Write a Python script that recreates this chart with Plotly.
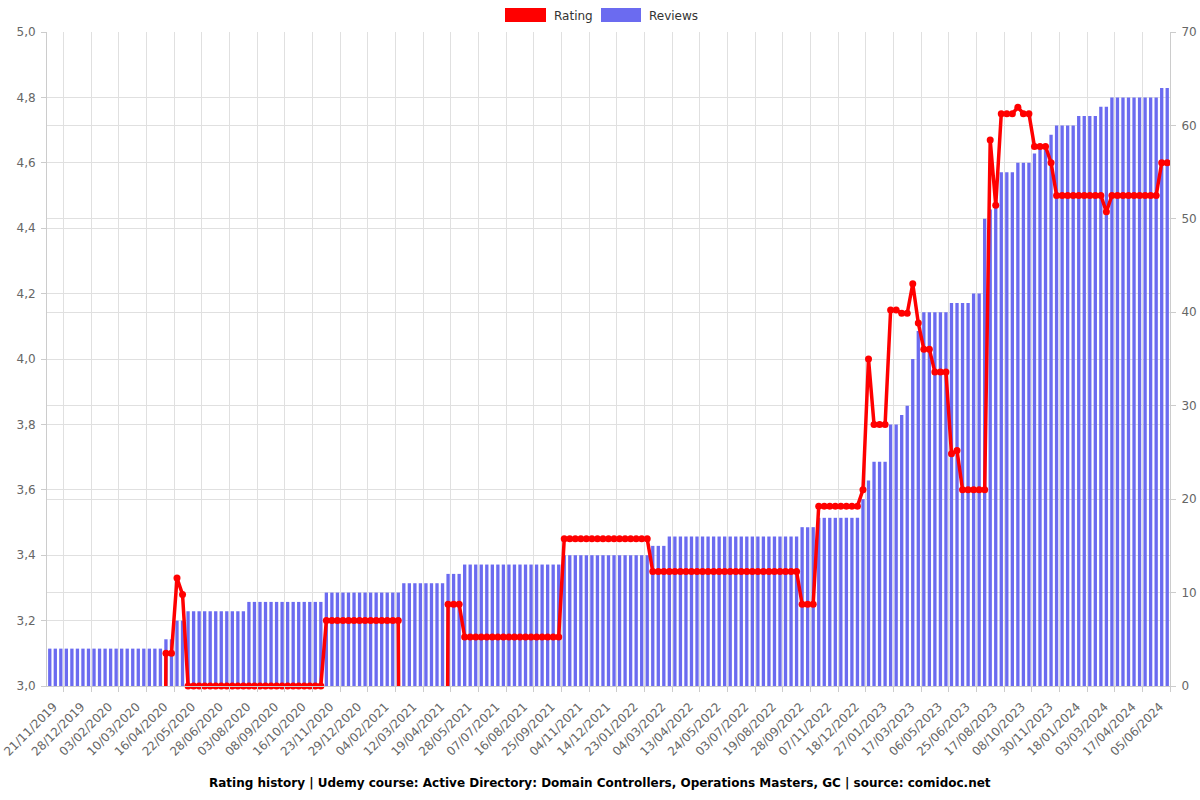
import plotly.graph_objects as go

tick_dates = ["21/11/2019", "28/12/2019", "03/02/2020", "10/03/2020", "16/04/2020", "22/05/2020",
              "28/06/2020", "03/08/2020", "08/09/2020", "16/10/2020", "23/11/2020", "29/12/2020",
              "04/02/2021", "12/03/2021", "19/04/2021", "28/05/2021", "07/07/2021", "16/08/2021",
              "25/09/2021", "04/11/2021", "14/12/2021", "23/01/2022", "04/03/2022", "13/04/2022",
              "24/05/2022", "03/07/2022", "19/08/2022", "28/09/2022", "07/11/2022", "18/12/2022",
              "27/01/2023", "17/03/2023", "06/05/2023", "25/06/2023", "17/08/2023", "08/10/2023",
              "30/11/2023", "18/01/2024", "03/03/2024", "17/04/2024", "05/06/2024"]

reviews = [
    4, 4, 4, 4, 4, 4, 4, 4, 4, 4, 4, 4, 4, 4, 4, 4, 4, 4, 4, 4, 4,
    5, 5, 7, 7,
    8, 8, 8, 8, 8, 8, 8, 8, 8, 8, 8,
    9, 9, 9, 9, 9, 9, 9, 9, 9, 9, 9, 9, 9, 9,
    10, 10, 10, 10, 10, 10, 10, 10, 10, 10, 10, 10, 10, 10,
    11, 11, 11, 11, 11, 11, 11, 11,
    12, 12, 12,
    13, 13, 13, 13, 13, 13, 13, 13, 13, 13, 13, 13, 13, 13, 13, 13, 13, 13,
    14, 14, 14, 14, 14, 14, 14, 14, 14, 14, 14, 14, 14, 14, 14, 14,
    15, 15, 15,
    16, 16, 16, 16, 16, 16, 16, 16, 16, 16, 16, 16, 16, 16, 16, 16, 16, 16, 16, 16, 16, 16, 16, 16,
    17, 17, 17,
    18, 18, 18, 18, 18, 18, 18, 18,
    20, 22, 24, 24, 24, 28, 28, 29, 30, 35, 38,
    40, 40, 40, 40, 40, 41, 41, 41, 41, 42, 42,
    50, 51, 52, 55, 55, 55, 56, 56, 56, 57, 58, 58, 59,
    60, 60, 60, 60, 61, 61, 61, 61, 62, 62,
    63, 63, 63, 63, 63, 63, 63, 63, 63, 64, 64,
]

rating = [
    0, 0, 0, 0, 0, 0, 0, 0, 0, 0, 0, 0, 0, 0, 0, 0, 0, 0, 0, 0, 0,
    3.1, 3.1, 3.33, 3.28,
    3.0, 3.0, 3.0, 3.0, 3.0, 3.0, 3.0, 3.0, 3.0, 3.0, 3.0, 3.0, 3.0, 3.0, 3.0, 3.0, 3.0, 3.0, 3.0, 3.0,
    3.0, 3.0, 3.0, 3.0, 3.0,
    3.2, 3.2, 3.2, 3.2, 3.2, 3.2, 3.2, 3.2, 3.2, 3.2, 3.2, 3.2, 3.2, 3.2,
    0, 0, 0, 0, 0, 0, 0, 0,
    3.25, 3.25, 3.25,
    3.15, 3.15, 3.15, 3.15, 3.15, 3.15, 3.15, 3.15, 3.15, 3.15, 3.15, 3.15, 3.15, 3.15, 3.15, 3.15, 3.15, 3.15,
    3.45, 3.45, 3.45, 3.45, 3.45, 3.45, 3.45, 3.45, 3.45, 3.45, 3.45, 3.45, 3.45, 3.45, 3.45, 3.45,
    3.35, 3.35, 3.35, 3.35, 3.35, 3.35, 3.35, 3.35, 3.35, 3.35, 3.35, 3.35, 3.35, 3.35, 3.35, 3.35, 3.35, 3.35,
    3.35, 3.35, 3.35, 3.35, 3.35, 3.35, 3.35, 3.35, 3.35,
    3.25, 3.25, 3.25,
    3.55, 3.55, 3.55, 3.55, 3.55, 3.55, 3.55, 3.55,
    3.6, 4.0, 3.8, 3.8, 3.8, 4.15, 4.15, 4.14, 4.14, 4.23, 4.11, 4.03, 4.03,
    3.96, 3.96, 3.96, 3.71, 3.72, 3.6, 3.6, 3.6, 3.6, 3.6,
    4.67, 4.47, 4.75, 4.75, 4.75, 4.77, 4.75, 4.75, 4.65, 4.65, 4.65, 4.6,
    4.5, 4.5, 4.5, 4.5, 4.5, 4.5, 4.5, 4.5, 4.5, 4.45,
    4.5, 4.5, 4.5, 4.5, 4.5, 4.5, 4.5, 4.5, 4.5, 4.6, 4.6,
]

title_text = ("Rating history | Udemy course: Active Directory: Domain Controllers, "
              "Operations Masters, GC | source: comidoc.net")

x = list(range(len(reviews)))
label_idx = list(range(2, len(reviews), 5))

BAR_COLOR = "#6b6bf0"
LINE_COLOR = "#ff0000"
GRID = "#e0e0e0"
AXIS = "#cccccc"
TXT = "#666666"

W, H = 1200, 800
ML, MR, MT, MB = 47, 30, 32, 114
PW = W - ML - MR
PH = H - MT - MB


def px2x(px):
    return (px - ML) / PW


def py2y(py):
    return (H - MB - py) / PH


fig = go.Figure()
fig.add_trace(go.Bar(x=x, y=reviews, yaxis="y", marker=dict(color=BAR_COLOR, line=dict(width=0)),
                     name="Reviews", showlegend=False, hoverinfo="skip"))
fig.add_trace(go.Scatter(x=x, y=rating, yaxis="y2", mode="lines+markers", name="Rating",
                         line=dict(color=LINE_COLOR, width=3.5), marker=dict(color=LINE_COLOR, size=7),
                         cliponaxis=False, showlegend=False, hoverinfo="skip"))

fig.update_layout(
    width=W, height=H,
    margin=dict(l=ML, r=MR, t=MT, b=MB, pad=0, autoexpand=False),
    paper_bgcolor="white", plot_bgcolor="white",
    separators=",.",
    font=dict(family="DejaVu Sans", size=12, color=TXT),
    bargap=0.4,
    showlegend=False,
    xaxis=dict(
        range=[-0.5, len(reviews) - 0.5],
        tickmode="array",
        tickvals=[i + 0.5 for i in label_idx],
        ticktext=tick_dates,
        tickangle=-45,
        showgrid=True, gridcolor=GRID, gridwidth=1,
        ticks="outside", ticklen=5, tickcolor=AXIS,
        showline=True, linecolor=AXIS, linewidth=1,
        zeroline=False, automargin=False,
        ticklabelshift=-10, ticklabelstandoff=3,
        tickfont=dict(size=12, color=TXT),
    ),
    yaxis=dict(
        side="right", range=[0, 70], dtick=10, tick0=0,
        showgrid=True, gridcolor=GRID, gridwidth=1,
        ticks="outside", ticklen=5, tickcolor=AXIS,
        showline=True, linecolor=AXIS, linewidth=1,
        zeroline=False, automargin=False,
        ticklabelstandoff=3,
        tickfont=dict(size=12, color=TXT),
    ),
    yaxis2=dict(
        overlaying="y", side="left", range=[3, 5], dtick=0.2, tick0=3, tickformat=".1f",
        showgrid=True, gridcolor=GRID, gridwidth=1,
        ticks="outside", ticklen=5, tickcolor=AXIS,
        showline=True, linecolor=AXIS, linewidth=1,
        zeroline=False, automargin=False,
        ticklabelstandoff=3,
        tickfont=dict(size=12, color=TXT),
    ),
)

# legend drawn manually (rectangles + labels)
legend_items = [("Rating", LINE_COLOR, 505, 546, 552), ("Reviews", BAR_COLOR, 601, 641, 647)]
for label, color, x0, x1, tx in legend_items:
    fig.add_shape(type="rect", xref="paper", yref="paper",
                  x0=px2x(x0), x1=px2x(x1), y0=py2y(22), y1=py2y(8),
                  fillcolor=color, line=dict(width=0))
    fig.add_annotation(xref="paper", yref="paper", x=px2x(tx), y=py2y(15.5),
                       xanchor="left", yanchor="middle", showarrow=False,
                       text=label, font=dict(size=12, color="#333333"))

fig.add_annotation(xref="paper", yref="paper", x=px2x(600), y=py2y(783),
                   xanchor="center", yanchor="middle", showarrow=False,
                   text="<b>" + title_text + "</b>", font=dict(size=12, color="#000000"))

fig.write_html("out.html")
